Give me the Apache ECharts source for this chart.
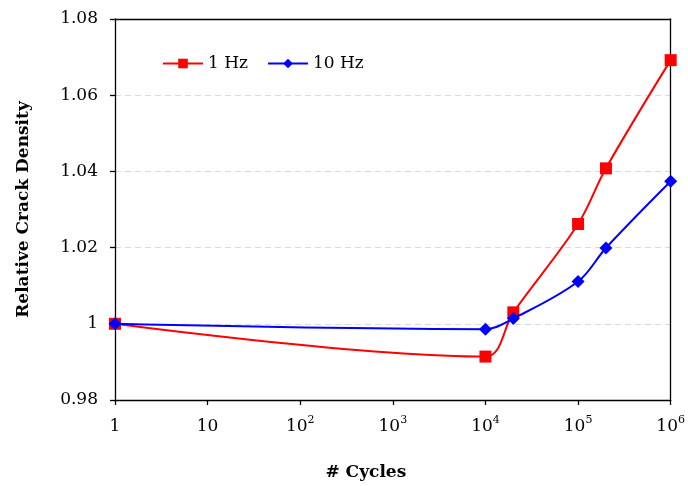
<!DOCTYPE html>
<html>
<head>
<meta charset="utf-8">
<script src="https://cdn.jsdelivr.net/npm/echarts@6/dist/echarts.min.js"></script>
<style>
  html, body { margin: 0; padding: 0; background: #fff; }
  #chart { width: 688px; height: 486px; }
</style>
</head>
<body>
<div id="chart"></div>
<script>
// Cycle counts (log scale) and relative crack density for each loading frequency
const cycles = [1, 1e4, 2e4, 1e5, 2e5, 1e6];
const density1Hz = [1.000, 0.9914, 1.0030, 1.0262, 1.0408, 1.0692];
const density10Hz = [1.000, 0.9986, 1.0014, 1.0111, 1.0199, 1.0374];
const seriesNames = ['1 Hz', '10 Hz'];
const xTickExponents = [0, 1, 2, 3, 4, 5, 6];
const yTicks = [0.98, 1.00, 1.02, 1.04, 1.06, 1.08];

const FONT = 'DejaVu Serif';
const AXIS_LINE = { show: true, lineStyle: { color: '#000', width: 1.3 } };

function pairs(xs, ys) {
  return xs.map((x, i) => [x, ys[i]]);
}

function xLabel(v) {
  const e = Math.round(Math.log10(v));
  if (!xTickExponents.includes(e)) return '';
  if (e === 0) return '{b|1}';
  if (e === 1) return '{b|10}';
  return '{b|10}{s|' + e + '}';
}

function yLabel(v) {
  const t = yTicks.find(k => Math.abs(k - v) < 1e-9);
  if (t === undefined) return '';
  return Math.abs(t - 1) < 1e-9 ? '1' : t.toFixed(2);
}

const chart = echarts.init(document.getElementById('chart'), null, { renderer: 'canvas' });

chart.setOption({
  animation: false,
  backgroundColor: '#ffffff',
  textStyle: { fontFamily: FONT, color: '#000' },
  grid: { left: 115, right: 16, top: 19, bottom: 85, show: false },
  legend: {
    left: 157, top: 50,
    itemWidth: 40, itemHeight: 12, itemGap: 19,
    textStyle: { fontFamily: FONT, fontSize: 17, color: '#000' },
    data: seriesNames
  },
  xAxis: [
    {
      type: 'log', logBase: 10, min: 1, max: 1e6,
      name: '# Cycles', nameLocation: 'middle', nameGap: 64,
      nameTextStyle: { fontFamily: FONT, fontSize: 17, fontWeight: 'bold', color: '#000', padding: [0, 54, 0, 0] },
      axisLine: AXIS_LINE,
      axisTick: { show: true, inside: false, length: 5, lineStyle: { color: '#000', width: 1.3 } },
      minorTick: { show: false },
      splitLine: { show: false },
      axisLabel: {
        margin: 15, color: '#000', formatter: xLabel,
        rich: {
          b: { fontFamily: FONT, fontSize: 17, color: '#000', lineHeight: 20, verticalAlign: 'bottom' },
          s: { fontFamily: FONT, fontSize: 11, color: '#000', lineHeight: 20, verticalAlign: 'top', padding: [0, 0, 6, 0] }
        }
      }
    },
    {
      // plain frame line along the top of the plot
      type: 'log', logBase: 10, min: 1, max: 1e6, position: 'top',
      axisLine: AXIS_LINE, axisTick: { show: false }, axisLabel: { show: false },
      splitLine: { show: false }, minorTick: { show: false }
    }
  ],
  yAxis: [
    {
      type: 'value', min: 0.98, max: 1.08, interval: 0.02,
      name: 'Relative Crack Density', nameLocation: 'middle', nameGap: 83,
      nameTextStyle: { fontFamily: FONT, fontSize: 17, fontWeight: 'bold', color: '#000' },
      axisLine: AXIS_LINE,
      axisTick: { show: true, inside: false, length: 5, lineStyle: { color: '#000', width: 1.3 } },
      splitLine: {
        show: true, showMinLine: false, showMaxLine: false,
        lineStyle: { color: '#d9d9d9', type: [6, 4], width: 1.2 }
      },
      axisLabel: { margin: 17, fontFamily: FONT, fontSize: 17, color: '#000', formatter: yLabel }
    },
    {
      // plain frame line along the right of the plot
      type: 'value', min: 0.98, max: 1.08, interval: 0.02, position: 'right',
      axisLine: AXIS_LINE, axisTick: { show: false }, axisLabel: { show: false },
      splitLine: { show: false }
    }
  ],
  series: [
    {
      name: seriesNames[0], type: 'line', smooth: 0.35,
      data: pairs(cycles, density1Hz),
      symbol: 'rect', symbolSize: 12,
      lineStyle: { color: '#ff0000', width: 2 },
      itemStyle: { color: '#ff0000' },
      z: 2
    },
    {
      name: seriesNames[1], type: 'line', smooth: 0.35,
      data: pairs(cycles, density10Hz),
      symbol: 'diamond', symbolSize: 13,
      lineStyle: { color: '#0000ff', width: 2 },
      itemStyle: { color: '#0000ff' },
      z: 3
    }
  ]
});
</script>
</body>
</html>
